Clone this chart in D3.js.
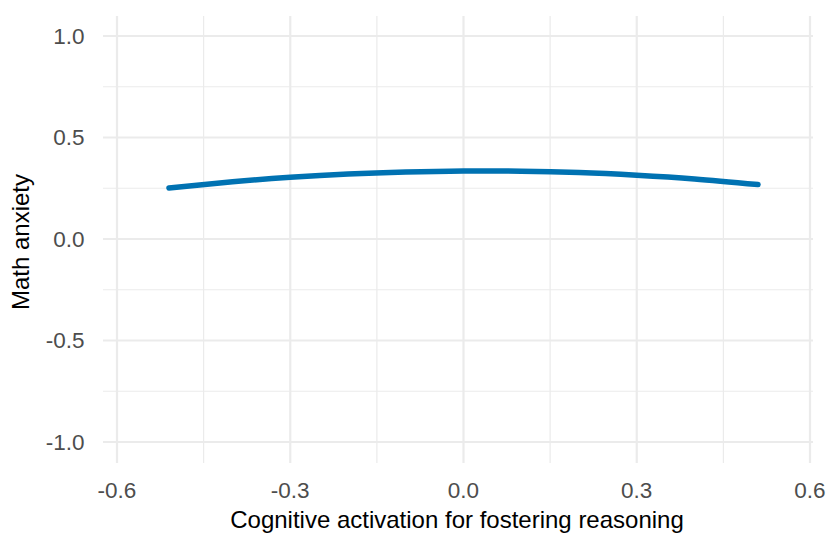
<!DOCTYPE html>
<html>
<head>
<meta charset="utf-8">
<script src="https://cdn.jsdelivr.net/npm/d3@7"></script>
<style>
  body { margin: 0; background: #fff; }
  svg { font-family: "Liberation Sans", Arial, sans-serif; }
</style>
</head>
<body>
<svg id="chart" width="829" height="534"></svg>
<script>
// data
const xVals = [-0.51, -0.4, -0.3, -0.2, -0.1, 0.0, 0.1, 0.2, 0.3, 0.4, 0.51];
const yVals = [0.251, 0.282, 0.304, 0.320, 0.330, 0.335, 0.334, 0.327, 0.314, 0.296, 0.268];
const xTicks = [-0.6, -0.3, 0.0, 0.3, 0.6];
const xMinor = [-0.45, -0.15, 0.15, 0.45];
const yTicks = [-1.0, -0.5, 0.0, 0.5, 1.0];
const yMinor = [-0.75, -0.25, 0.25, 0.75];

const svg = d3.select("#chart");

// panel
const panel = {left: 103, right: 813, top: 16, bottom: 463};

const x = d3.scaleLinear().domain([-0.6, 0.6]).range([117, 810]);
const y = d3.scaleLinear().domain([-1, 1]).range([442, 36]);

const grid = svg.append("g");

// minor grid
grid.selectAll(".xminor").data(xMinor).enter().append("line")
    .attr("x1", d => x(d)).attr("x2", d => x(d))
    .attr("y1", panel.top).attr("y2", panel.bottom)
    .style("stroke", "#ebebeb").style("stroke-width", 1.2);
grid.selectAll(".yminor").data(yMinor).enter().append("line")
    .attr("y1", d => y(d)).attr("y2", d => y(d))
    .attr("x1", panel.left).attr("x2", panel.right)
    .style("stroke", "#ebebeb").style("stroke-width", 1.2);

// major grid
grid.selectAll(".xmajor").data(xTicks).enter().append("line")
    .attr("x1", d => x(d)).attr("x2", d => x(d))
    .attr("y1", panel.top).attr("y2", panel.bottom)
    .style("stroke", "#ebebeb").style("stroke-width", 2.2);
grid.selectAll(".ymajor").data(yTicks).enter().append("line")
    .attr("y1", d => y(d)).attr("y2", d => y(d))
    .attr("x1", panel.left).attr("x2", panel.right)
    .style("stroke", "#ebebeb").style("stroke-width", 2.2);

// tick labels (plain hyphen minus, as in the original)
const fmt = d => d.toFixed(1);

svg.append("g").selectAll("text").data(xTicks).enter().append("text")
    .attr("x", d => x(d)).attr("y", 497.5)
    .attr("text-anchor", "middle")
    .style("font-size", "22.5px").style("fill", "#4d4d4d")
    .text(fmt);

svg.append("g").selectAll("text").data(yTicks).enter().append("text")
    .attr("x", 84.5).attr("y", d => y(d) + 7.5)
    .attr("text-anchor", "end")
    .style("font-size", "22.5px").style("fill", "#4d4d4d")
    .text(fmt);

// axis titles
svg.append("text")
    .attr("x", 457).attr("y", 528)
    .attr("text-anchor", "middle")
    .style("font-size", "24px").style("fill", "#000")
    .text("Cognitive activation for fostering reasoning");

svg.append("text")
    .attr("transform", "translate(29,242) rotate(-90)")
    .attr("text-anchor", "middle")
    .style("font-size", "24px").style("fill", "#000")
    .text("Math anxiety");

// line
const pts = xVals.map((d, i) => [d, yVals[i]]);
const line = d3.line()
    .x(d => x(d[0]))
    .y(d => y(d[1]))
    .curve(d3.curveNatural);

svg.append("path")
    .attr("d", line(pts))
    .style("fill", "none")
    .style("stroke", "#0072B2")
    .style("stroke-width", 5.5)
    .style("stroke-linecap", "round");
</script>
</body>
</html>
